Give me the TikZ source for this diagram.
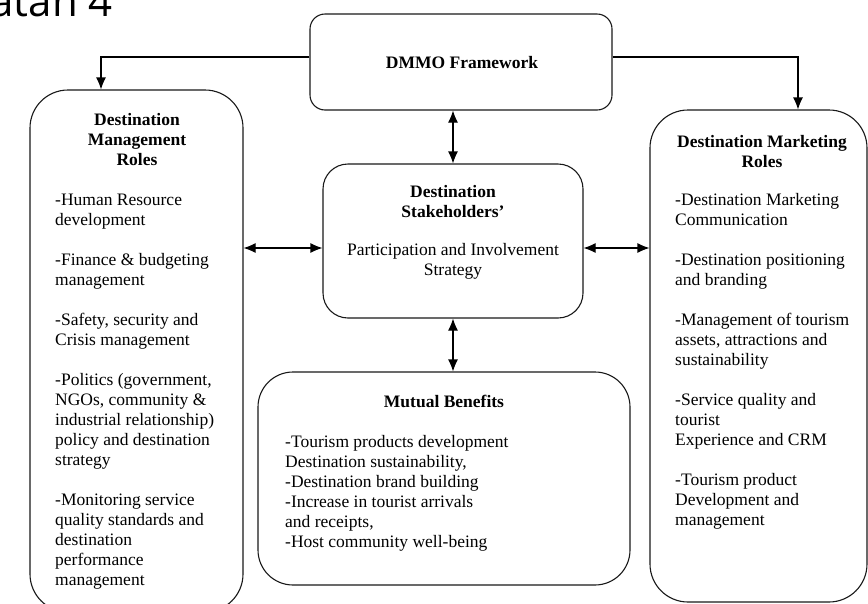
\documentclass[tikz,border=0pt]{standalone}
\usepackage{fontspec}
\setmainfont{Liberation Serif}
\newfontfamily\capfont{Open Sans}
\usetikzlibrary{arrows.meta,positioning,calc}

\begin{document}
\begin{tikzpicture}
  [x=1pt,y=-1pt,
   roundbox/.style={draw=black!90,line width=1.1pt,inner sep=0pt},
   title/.style={font=\fontsize{17.5}{20}\selectfont\bfseries,align=center,inner sep=0pt},
   items/.style={font=\fontsize{17.5}{20}\selectfont,align=left,inner sep=0pt},
   link/.style={line width=1.1pt,-{Latex[length=12pt,width=10pt]}},
   both/.style={line width=1.1pt,{Latex[length=12pt,width=10pt]}-{Latex[length=12pt,width=10pt]}}]
  \useasboundingbox (0,0) rectangle (868,603);
  \node (capt) at (113,16) [anchor=base east,inner sep=0pt,font=\capfont\fontsize{42}{42}\selectfont] {atan 4};

  \node (dmmo)   at (461,62)    [roundbox,rounded corners=15pt,minimum width=302pt,minimum height=96pt] {};
  \node (mgmt)   at (136.5,351) [roundbox,rounded corners=38pt,minimum width=213pt,minimum height=522pt] {};
  \node (mkt)    at (758.5,356) [roundbox,rounded corners=38pt,minimum width=217pt,minimum height=492pt] {};
  \node (stake)  at (453,241)   [roundbox,rounded corners=25pt,minimum width=260pt,minimum height=154pt] {};
  \node (mutual) at (444,478.5) [roundbox,rounded corners=35pt,minimum width=372pt,minimum height=213pt] {};

  \node (dmmo-t) at (462,68) [title,anchor=base] {DMMO Framework};
  \node (mgmt-t) at (137,165) [title,anchor=base] {Destination\\Management\\Roles};
  \node (mgmt-l) at (55,585) [items,anchor=base west] {-Human Resource\\development\\[20pt]-Finance \& budgeting\\management\\[20pt]-Safety, security and\\Crisis management\\[20pt]-Politics (government,\\NGOs, community \&\\industrial relationship)\\policy and destination\\strategy\\[20pt]-Monitoring service\\quality standards and\\destination\\performance\\management};
  \node (mkt-t) at (762,167) [title,anchor=base] {Destination Marketing\\Roles};
  \node (mkt-l) at (675,525) [items,anchor=base west] {-Destination Marketing\\Communication\\[20pt]-Destination positioning\\and branding\\[20pt]-Management of tourism\\assets, attractions and\\sustainability\\[20pt]-Service quality and\\tourist\\Experience and CRM\\[20pt]-Tourism product\\Development and\\management};
  \node (stake-t) at (453,217) [title,anchor=base] {Destination\\Stakeholders'};
  \node (stake-l) at (453,275) [items,align=center,anchor=base] {Participation and Involvement\\Strategy};
  \node (mutual-t) at (444,407) [title,anchor=base] {Mutual Benefits};
  \node (mutual-l) at (285,547) [items,anchor=base west] {-Tourism products development\\Destination sustainability,\\-Destination brand building\\-Increase in tourist arrivals\\and receipts,\\-Host community well-being};

  \coordinate (lmid) at ([yshift=-7pt]stake.west);
  \coordinate (rmid) at ([yshift=-7pt]stake.east);
  \draw [link] ([yshift=5pt]dmmo.west) -| ([xshift=-35.5pt]mgmt.north);
  \draw [link] ([yshift=5pt]dmmo.east) -| ([xshift=39.5pt]mkt.north);
  \draw [both] (stake.north |- dmmo.south) -- (stake.north);
  \draw [both] (lmid -| mgmt.east) -- (lmid);
  \draw [both] (rmid) -- (rmid -| mkt.west);
  \draw [both] (stake.south) -- (stake.south |- mutual.north);
\end{tikzpicture}
\end{document}
